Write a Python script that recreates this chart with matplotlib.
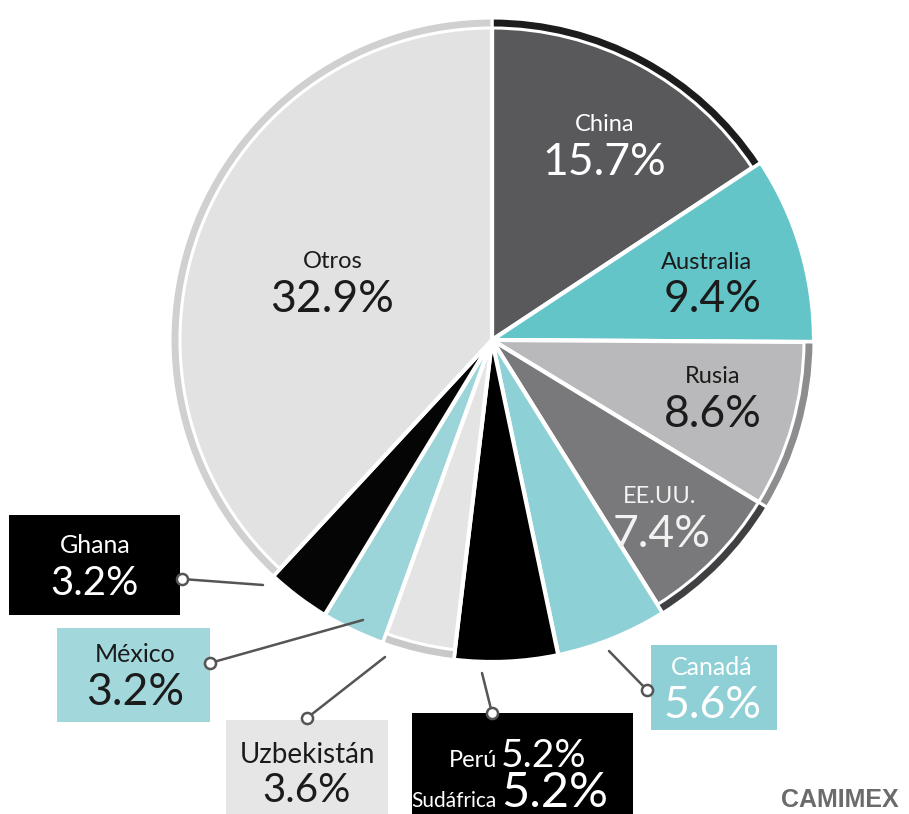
import matplotlib
matplotlib.use("Agg")
import matplotlib.pyplot as plt
from matplotlib.patches import Rectangle

# ---------------- data ----------------
countries = ["China", "Australia", "Rusia", "EE.UU.", "Canadá",
             "Perú / Sudáfrica", "Uzbekistán", "México", "Ghana", "Otros"]
label_pct = [15.7, 9.4, 8.6, 7.4, 5.6, 5.2, 3.6, 3.2, 3.2, 32.9]
# drawn share of each wedge (Perú and Sudáfrica share one wedge; Otros fills the rest)
wedge_share = [15.7, 9.4, 8.6, 7.4, 5.6, 5.2, 3.6, 3.2, 3.2]
wedge_share = wedge_share + [round(100 - sum(wedge_share), 1)]

face_colors = ["#59585b", "#64c5c9", "#b9b9bb", "#79797b", "#8dd1d6",
               "#000000", "#e4e4e5", "#9bd4d9", "#050505", "#e2e2e3"]
rim_colors = ["#1c1c1c", None, "#8d8d8f", "#404042", None,
              None, "#c9c9ca", None, None, "#d0d0d1"]

W, H = 909, 814


def Y(y):
    return H - y


fig = plt.figure(figsize=(W / 100, H / 100), dpi=100)
ax = fig.add_axes([0, 0, 1, 1])

cx, cy, R = 492, 340, 322

ax.pie(wedge_share, colors=face_colors, startangle=90, counterclock=False,
       center=(cx, Y(cy)), radius=R,
       wedgeprops=dict(edgecolor="white", linewidth=3))

rim_wedges, _ = ax.pie(wedge_share, colors=[c if c else "white" for c in rim_colors],
                       startangle=90, counterclock=False,
                       center=(cx, Y(cy)), radius=R,
                       wedgeprops=dict(width=10, edgecolor="white", linewidth=2.2))
for w, c in zip(rim_wedges, rim_colors):
    if c is None:
        w.set_visible(False)

ax.set_xlim(0, W)
ax.set_ylim(0, H)
ax.set_aspect("equal")
ax.axis("off")

FONT = "Lato"
DARK = "#1b1b1b"

# inner labels: (name, name_xy_baseline, pct_xy_baseline, color)
inner = {
    "China": ((605, 131), (604, 175), "white"),
    "Australia": ((706, 269), (713, 312), DARK),
    "Rusia": ((713, 383), (713, 427), DARK),
    "EE.UU.": ((660, 503), (662, 547), "#f2f2f2"),
    "Otros": ((333, 268), (332, 312), DARK),
}
for name, (nxy, pxy, col) in inner.items():
    i = countries.index(name)
    ax.text(nxy[0], Y(nxy[1]), name, ha="center", va="baseline",
            fontsize=17, color=col, family=FONT)
    ax.text(pxy[0], Y(pxy[1]), f"{label_pct[i]}%", ha="center", va="baseline",
            fontsize=32, color=col, family=FONT)


def box(x0, y0, x1, y1, color):
    ax.add_patch(Rectangle((x0, Y(y1)), x1 - x0, y1 - y0, facecolor=color,
                           edgecolor="none", zorder=3))


def leader(p_box, p_pie):
    ax.plot([p_box[0], p_pie[0]], [Y(p_box[1]), Y(p_pie[1])], color="#555555",
            lw=1.8, zorder=4, solid_capstyle="round")
    ax.plot([p_box[0]], [Y(p_box[1])], marker="o", ms=8, mfc="white",
            mec="#555555", mew=1.8, zorder=5)


# Ghana
box(9, 515, 180, 615, "#000000")
ax.text(95, Y(553), "Ghana", ha="center", va="baseline", fontsize=18,
        color="white", family=FONT, zorder=6)
ax.text(95, Y(595), f"{label_pct[countries.index('Ghana')]}%", ha="center",
        va="baseline", fontsize=29, color="white", family=FONT, zorder=6)
leader((182, 579), (263, 585))

# México
box(57, 628, 210, 722, "#a2d8dc")
ax.text(135, Y(662), "México", ha="center", va="baseline", fontsize=18,
        color=DARK, family=FONT, zorder=6)
ax.text(135, Y(705), f"{label_pct[countries.index('México')]}%", ha="center",
        va="baseline", fontsize=32, color=DARK, family=FONT, zorder=6)
leader((210, 663), (363, 620))

# Uzbekistán
box(226, 720, 388, 814, "#e6e6e6")
ax.text(307, Y(763), "Uzbekistán", ha="center", va="baseline", fontsize=20,
        color=DARK, family=FONT, zorder=6)
ax.text(307, Y(802), f"{label_pct[countries.index('Uzbekistán')]}%", ha="center",
        va="baseline", fontsize=29, color=DARK, family=FONT, zorder=6)
leader((307, 718), (385, 657))

# Perú / Sudáfrica
pct_ps = label_pct[countries.index("Perú / Sudáfrica")]
box(412, 713, 633, 814, "#000000")
ax.text(497, Y(767), "Perú", ha="right", va="baseline", fontsize=17,
        color="white", family=FONT, zorder=6)
ax.text(501, Y(767), f"{pct_ps}%", ha="left", va="baseline", fontsize=28,
        color="white", family=FONT, zorder=6)
ax.text(497, Y(807), "Sudáfrica", ha="right", va="baseline", fontsize=15,
        color="white", family=FONT, zorder=6)
ax.text(501, Y(807), f"{pct_ps}%", ha="left", va="baseline", fontsize=35,
        color="white", family=FONT, zorder=6)
leader((492, 713), (482, 673))

# Canadá
box(651, 645, 777, 730, "#8fd0d6")
ax.text(712, Y(675), "Canadá", ha="center", va="baseline", fontsize=18,
        color="white", family=FONT, zorder=6)
ax.text(712, Y(718), f"{label_pct[countries.index('Canadá')]}%", ha="center",
        va="baseline", fontsize=32, color="white", family=FONT, zorder=6)
leader((647, 690), (609, 651))

# source
ax.text(840, Y(807), "CAMIMEX", ha="center", va="baseline", fontsize=18,
        fontweight="bold", color="#6b6b6b", family="Liberation Sans")

fig.savefig("out.png", dpi=100)
